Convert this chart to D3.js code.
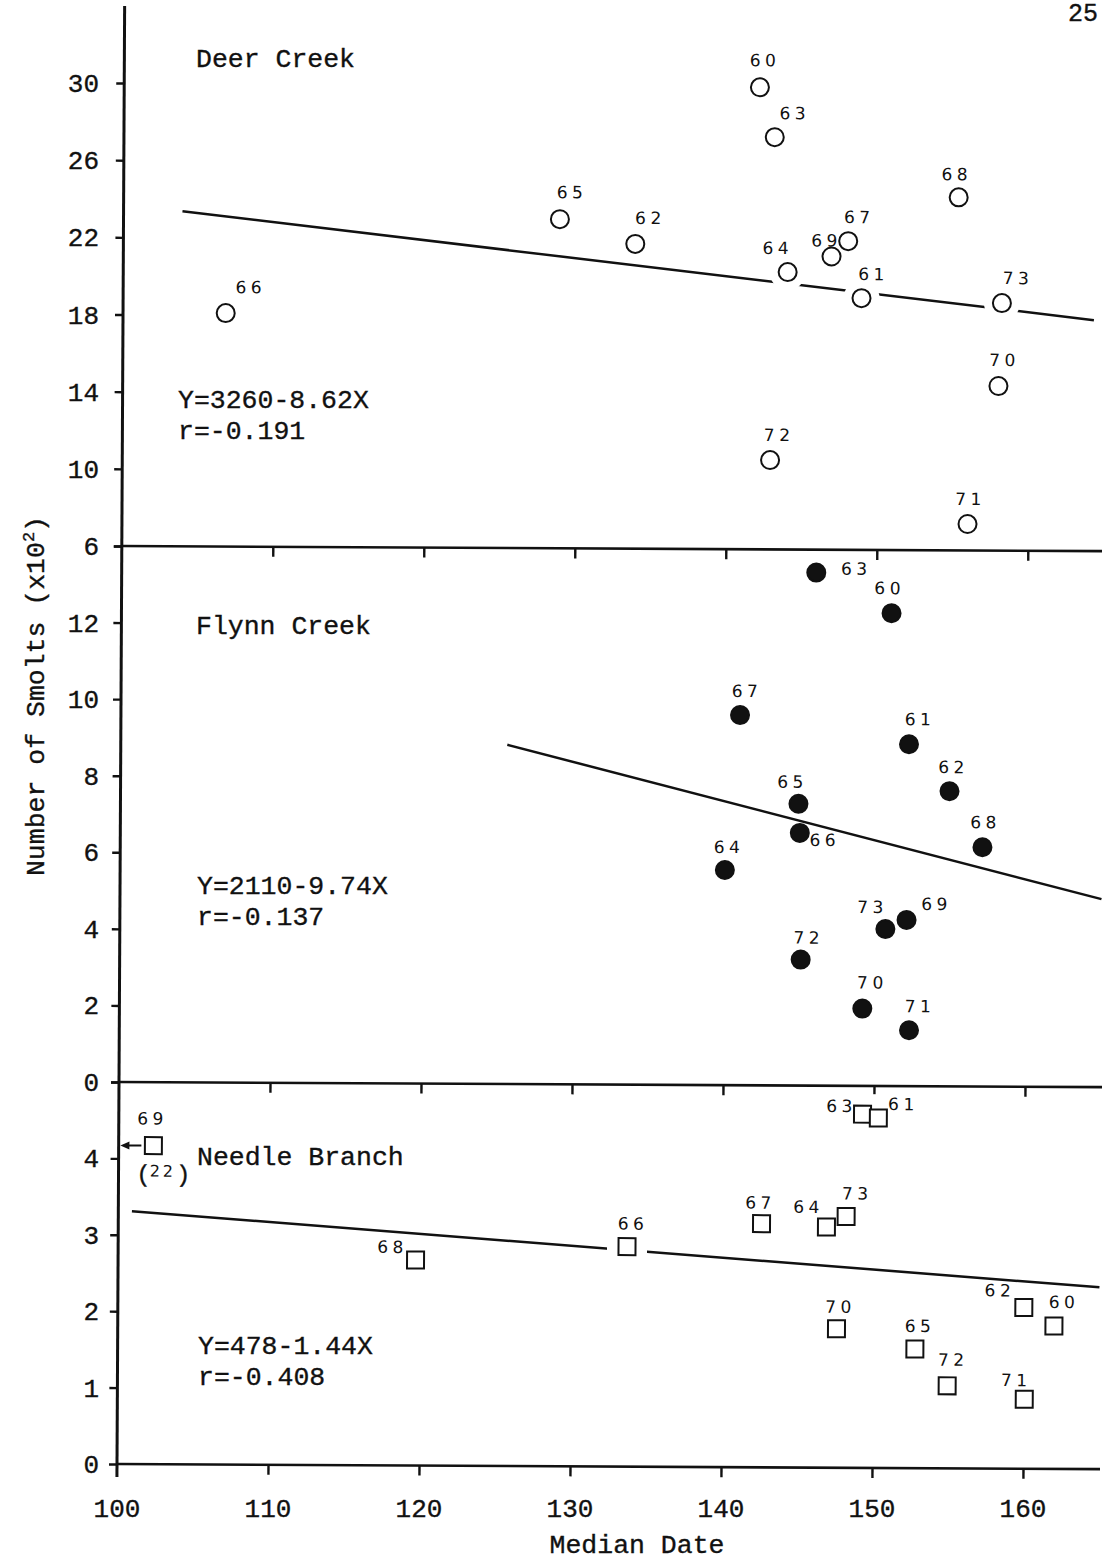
<!DOCTYPE html>
<html>
<head>
<meta charset="utf-8">
<script src="https://cdn.jsdelivr.net/npm/d3@7"></script>
<style>
  body { margin: 0; background: #fff; }
  svg { display: block; }
  .mono { font-family: "Liberation Mono", "DejaVu Sans Mono", monospace; fill: #111; stroke: #111; stroke-width: 0.35px; }
  .yr { font-family: "DejaVu Sans", sans-serif; font-size: 17px; letter-spacing: 4.5px; fill: #111; }
</style>
</head>
<body>
<svg id="chart" width="1102" height="1563"></svg>
<script>
// ---- data (median date vs number of smolts, x10^2) ----
const dateTicks = [100, 110, 120, 130, 140, 150, 160];

// Deer Creek, open circles
const deerYears  = ["66", "65", "62", "60", "63", "64", "69", "67", "61", "68", "73", "70", "72", "71"];
const deerDates  = [106.8, 128.9, 133.9, 142.1, 143.1, 144.0, 146.9, 148.0, 148.9, 155.3, 158.2, 158.0, 142.9, 156.0];
const deerSmolts = [18.1, 23.06, 21.8, 29.95, 27.37, 20.38, 21.2, 22.0, 19.05, 24.3, 18.83, 14.53, 10.63, 7.37];
const deerTicks  = [6, 10, 14, 18, 22, 26, 30];
const deerFitDates  = [103.9, 164.3];
const deerFitSmolts = [23.37, 17.97];

// Flynn Creek, filled circles
const flynnYears  = ["63", "60", "67", "61", "62", "65", "66", "68", "64", "69", "73", "72", "70", "71"];
const flynnDates  = [146.0, 151.0, 141.0, 152.2, 154.9, 144.9, 145.0, 157.1, 140.05, 152.1, 150.7, 145.1, 149.2, 152.3];
const flynnSmolts = [13.40, 12.35, 9.67, 8.93, 7.71, 7.36, 6.60, 6.25, 5.62, 4.34, 4.10, 3.29, 2.02, 1.46];
const flynnTicks  = [0, 2, 4, 6, 8, 10, 12];
const flynnFitDates  = [125.6, 165.0];
const flynnFitSmolts = [8.86, 4.91];

// Needle Branch, open squares
const needleYears  = ["69", "68", "66", "67", "64", "73", "63", "61", "70", "65", "72", "62", "60", "71"];
const needleDates  = [102.3, 119.7, 133.7, 142.6, 146.9, 148.2, 149.25, 150.3, 147.6, 152.8, 154.95, 160.0, 162.0, 160.06];
const needleSmolts = [4.17, 2.69, 2.88, 3.19, 3.15, 3.29, 4.63, 4.58, 1.82, 1.56, 1.08, 2.11, 1.87, 0.91];
const needleTicks  = [0, 1, 2, 3, 4];
const needleFitDates  = [100.9, 165.0];
const needleFitSmolts = [3.31, 2.38];

// where each year label sits relative to its marker (px)
const deerLabelOff = { "66": [23, -26], "65": [10, -27], "62": [13, -26], "60": [3, -27], "63": [18, -24],
  "64": [-12, -24], "69": [-7, -16], "67": [9, -24], "61": [10, -24], "68": [-4, -23], "73": [14, -25],
  "70": [4, -26], "72": [7, -25], "71": [1, -25] };
const flynnLabelOff = { "63": [38, -4], "60": [-4, -25], "67": [5, -24], "61": [9, -25], "62": [2, -24],
  "65": [-8, -22], "66": [23, 7], "68": [1, -25], "64": [2, -23], "69": [28, -16], "73": [-15, -22],
  "72": [6, -22], "70": [8, -26], "71": [9, -24] };
const needleLabelOff = { "69": [-3, -27], "68": [-25, -13], "66": [4, -23], "67": [-3, -21], "64": [-20, -20],
  "73": [9, -23], "63": [-23, -8], "61": [23, -14], "70": [2, -22], "65": [3, -23], "72": [4, -26],
  "62": [-26, -17], "60": [8, -24], "71": [-10, -19] };

const svg = d3.select('#chart');
svg.append('rect').attr('width', 1102).attr('height', 1563).attr('fill', '#fff');

const ink = '#111';
const xEdge = 1100;
const x = d3.scaleLinear().domain([100, 160]).range([117, 1023]);

const panels = [
  { name: 'Deer Creek', namePos: [196, 67], eq: ['Y=3260-8.62X', 'r=-0.191'], eqPos: [178, 408],
    years: deerYears, dates: deerDates, smolts: deerSmolts, ticks: deerTicks, capTick: false,
    fitD: deerFitDates, fitS: deerFitSmolts, off: deerLabelOff, marker: 'open',
    y: d3.scaleLinear().domain([6, 30]).range([546, 83]) },
  { name: 'Flynn Creek', namePos: [196, 634], eq: ['Y=2110-9.74X', 'r=-0.137'], eqPos: [197, 894],
    years: flynnYears, dates: flynnDates, smolts: flynnSmolts, ticks: flynnTicks, capTick: true,
    fitD: flynnFitDates, fitS: flynnFitSmolts, off: flynnLabelOff, marker: 'dot',
    y: d3.scaleLinear().domain([0, 14]).range([1082, 546]) },
  { name: 'Needle Branch', namePos: [197, 1165], eq: ['Y=478-1.44X', 'r=-0.408'], eqPos: [198, 1354],
    years: needleYears, dates: needleDates, smolts: needleSmolts, ticks: needleTicks, capTick: true,
    fitD: needleFitDates, fitS: needleFitSmolts, off: needleLabelOff, marker: 'square',
    y: d3.scaleLinear().domain([0, 5]).range([1464, 1082]) }
];

// the scanned page is turned a little clockwise
const g = svg.append('g').attr('transform', 'rotate(0.3,117,1464)');
const txt = svg.append('g').attr('class', 'mono');

// left axis
g.append('line')
  .attr('x1', x(100)).attr('x2', x(100))
  .attr('y1', 6).attr('y2', 1477)
  .attr('stroke', ink).attr('stroke-width', 3);

panels.forEach(p => {
  const base = p.y.domain()[0];
  const yb = p.y(base);

  g.append('line')
    .attr('x1', x(100)).attr('x2', xEdge)
    .attr('y1', yb).attr('y2', yb)
    .attr('stroke', ink).attr('stroke-width', 2.6);

  let xa = g.append('g')
    .attr('transform', `translate(0,${yb})`)
    .call(d3.axisBottom(x).tickValues(dateTicks.slice(1)).tickSize(10).tickFormat(''));
  xa.select('.domain').remove();
  xa.selectAll('line').attr('stroke', ink).attr('stroke-width', 2.4);

  let marks = p.capTick ? p.ticks.concat([p.y.domain()[1]]) : p.ticks;
  let ya = g.append('g')
    .attr('transform', `translate(${x(100)},0)`)
    .call(d3.axisLeft(p.y).tickValues(marks).tickSize(8).tickFormat(''));
  ya.select('.domain').remove();
  ya.selectAll('line').attr('stroke', ink).attr('stroke-width', 2.4);

  txt.selectAll(null)
    .data(p.ticks)
    .enter().append('text')
    .attr('x', 99)
    .attr('y', d => p.y(d) + 9)
    .attr('text-anchor', 'end')
    .attr('font-size', 26)
    .text(d => d);

  // regression line
  g.append('line')
    .attr('x1', x(p.fitD[0])).attr('y1', p.y(p.fitS[0]))
    .attr('x2', x(p.fitD[1])).attr('y2', p.y(p.fitS[1]))
    .attr('stroke', ink).attr('stroke-width', 2.5);

  const pts = p.years.map((yr, i) => ({ yr: yr, cx: x(p.dates[i]), cy: p.y(p.smolts[i]) }));

  // open markers knock a gap out of the regression line
  if (p.marker === 'open') {
    g.selectAll(null).data(pts).enter().append('circle')
      .attr('cx', d => d.cx).attr('cy', d => d.cy).attr('r', 18).attr('fill', '#fff');
  } else if (p.marker === 'square') {
    g.selectAll(null).data(pts).enter().append('rect')
      .attr('x', d => d.cx - 20).attr('y', d => d.cy - 20)
      .attr('width', 40).attr('height', 40).attr('fill', '#fff');
  }

  if (p.marker === 'square') {
    g.selectAll(null).data(pts).enter().append('rect')
      .attr('x', d => d.cx - 8.5).attr('y', d => d.cy - 8.5)
      .attr('width', 17).attr('height', 17)
      .attr('fill', '#fff').attr('stroke', ink).attr('stroke-width', 2);
  } else {
    g.selectAll(null).data(pts).enter().append('circle')
      .attr('cx', d => d.cx).attr('cy', d => d.cy).attr('r', 9)
      .attr('fill', p.marker === 'dot' ? ink : '#fff')
      .attr('stroke', ink).attr('stroke-width', 2);
  }

  g.selectAll(null).data(pts).enter().append('text')
    .attr('class', 'yr')
    .attr('x', d => d.cx + p.off[d.yr][0] + 2)
    .attr('y', d => d.cy + p.off[d.yr][1] + 6)
    .attr('text-anchor', 'middle')
    .text(d => d.yr);

  txt.append('text')
    .attr('x', p.namePos[0]).attr('y', p.namePos[1])
    .attr('font-size', 26.5)
    .text(p.name);

  txt.selectAll(null)
    .data(p.eq)
    .enter().append('text')
    .attr('x', p.eqPos[0])
    .attr('y', (d, i) => p.eqPos[1] + i * 31)
    .attr('font-size', 26.5)
    .text(d => d);
});

// Needle Branch 1969: arrow and the true value (22)
const np = panels[2];
const off69 = needleYears.indexOf('69');
const ax = x(needleDates[off69]), ay = np.y(needleSmolts[off69]);
g.append('line')
  .attr('x1', ax - 12).attr('x2', ax - 26)
  .attr('y1', ay).attr('y2', ay)
  .attr('stroke', ink).attr('stroke-width', 2);
g.append('path')
  .attr('d', `M${ax - 33},${ay} L${ax - 24},${ay - 4} L${ax - 24},${ay + 4} Z`)
  .attr('fill', ink);
const paren = g.append('text').attr('x', ax - 17).attr('y', ay + 36).attr('class', 'mono').attr('font-size', 24);
paren.append('tspan').text('(');
paren.append('tspan').attr('dy', -5).attr('dx', -1)
  .style('font-family', '"DejaVu Sans", sans-serif').style('font-size', '16px')
  .style('letter-spacing', '3px').style('stroke-width', '0px')
  .text('22');
paren.append('tspan').attr('dy', 5).text(')');

// axis numbers along the bottom
txt.selectAll(null)
  .data(dateTicks)
  .enter().append('text')
  .attr('x', d => x(d))
  .attr('y', 1517)
  .attr('text-anchor', 'middle')
  .attr('font-size', 26)
  .text(d => d);

txt.append('text')
  .attr('x', 637).attr('y', 1553)
  .attr('text-anchor', 'middle')
  .attr('font-size', 26.5)
  .text('Median Date');

const yTitle = txt.append('text')
  .attr('transform', 'translate(44,696) rotate(-90)')
  .attr('text-anchor', 'middle')
  .attr('font-size', 26.5);
yTitle.append('tspan').text('Number of Smolts (x10');
yTitle.append('tspan').attr('dy', -10).attr('font-size', 17).text('2');
yTitle.append('tspan').attr('dy', 10).text(')');

// page number in the top corner of the scan
txt.append('text')
  .attr('x', 1068).attr('y', 21)
  .attr('font-size', 25)
  .text('25');
</script>
</body>
</html>
